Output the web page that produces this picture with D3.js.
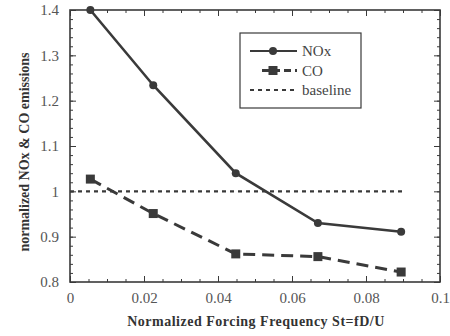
<!DOCTYPE html>
<html>
<head>
<meta charset="utf-8">
<script src="https://cdn.jsdelivr.net/npm/d3@7"></script>
<style>
  body { margin: 0; background: #fff; }
</style>
</head>
<body>
<div id="chart"></div>
<script>
// values
let freq = [0.0055, 0.0225, 0.0448, 0.067, 0.0895],
    nox = [1.4, 1.234, 1.04, 0.93, 0.911],
    co = [1.027, 0.951, 0.862, 0.856, 0.822],
    baseFreq = [0, 0.09],
    baseVal = [1, 1],
    xTicks = [0, 0.02, 0.04, 0.06, 0.08, 0.1],
    yTicks = [0.8, 0.9, 1, 1.1, 1.2, 1.3, 1.4];

let W = 450, H = 336,
    margin = { top: 10, right: 10, bottom: 54, left: 70 },
    width = W - margin.left - margin.right,
    height = H - margin.top - margin.bottom,
    ink = "#3a3a3a",
    serif = "Liberation Serif";

let svg = d3.select("#chart").append("svg").attr("width", W).attr("height", H),
    g = svg.append("g").attr("transform", `translate(${margin.left},${margin.top})`);

let x = d3.scaleLinear().domain([0, 0.1]).range([0, width]),
    y = d3.scaleLinear().domain([0.8, 1.4]).range([height, 0]);

// minor ticks, all four sides, pointing inward
let xMinor = d3.range(0, 0.1001, 0.005),
    yMinor = d3.range(0.8, 1.4001, 0.02);

function tickSet(axis, scale, vals, size, transform) {
    g.append("g")
        .attr("transform", transform || null)
        .call(axis(scale).tickValues(vals).tickSize(size).tickFormat(""))
        .call(s => s.select(".domain").remove())
        .selectAll("line").attr("stroke", ink).attr("stroke-width", 1);
}
tickSet(d3.axisTop, x, xMinor, 3, `translate(0,${height})`);
tickSet(d3.axisTop, x, xTicks, 6, `translate(0,${height})`);
tickSet(d3.axisBottom, x, xMinor, 3);
tickSet(d3.axisBottom, x, xTicks, 6);
tickSet(d3.axisRight, y, yMinor, 3);
tickSet(d3.axisRight, y, yTicks, 6);
tickSet(d3.axisLeft, y, yMinor, 3, `translate(${width},0)`);
tickSet(d3.axisLeft, y, yTicks, 6, `translate(${width},0)`);

// frame
g.append("rect")
    .attr("width", width).attr("height", height)
    .attr("fill", "none").attr("stroke", ink).attr("stroke-width", 1.6);

// tick labels
g.append("g")
    .attr("transform", `translate(0,${height})`)
    .call(d3.axisBottom(x).tickValues(xTicks).tickSize(0).tickPadding(10).tickFormat(d3.format("")))
    .call(s => s.select(".domain").remove())
    .call(s => s.attr("font-family", serif).attr("font-size", 15))
    .selectAll("text").attr("fill", "#555");

g.append("g")
    .call(d3.axisLeft(y).tickValues(yTicks).tickSize(0).tickPadding(11).tickFormat(d3.format("")))
    .call(s => s.select(".domain").remove())
    .call(s => s.attr("font-family", serif).attr("font-size", 15))
    .selectAll("text").attr("fill", "#555");

// axis titles
svg.append("text")
    .attr("x", 256)
    .attr("y", 326)
    .attr("text-anchor", "middle")
    .attr("font-family", serif)
    .attr("font-size", 14).attr("font-weight", "bold").attr("fill", "#333")
    .attr("letter-spacing", 0.5)
    .text("Normalized Forcing Frequency St=fD/U");

svg.append("text")
    .attr("transform", `translate(29,152) rotate(-90)`)
    .attr("text-anchor", "middle")
    .attr("font-family", serif)
    .attr("font-size", 14).attr("font-weight", "bold").attr("fill", "#333")
    .text("normalized NOx & CO emissions");

let line = d3.line().x(d => x(d[0])).y(d => y(d[1]));

// baseline
g.append("path")
    .datum(d3.zip(baseFreq, baseVal))
    .attr("d", line)
    .attr("fill", "none").attr("stroke", ink).attr("stroke-width", 2.2)
    .attr("stroke-dasharray", "4,4");

// CO
let coData = d3.zip(freq, co);
g.append("path")
    .datum(coData)
    .attr("d", line)
    .attr("fill", "none").attr("stroke", ink).attr("stroke-width", 3)
    .attr("stroke-dasharray", "12,7");
g.selectAll(".co-pt").data(coData).join("rect")
    .attr("class", "co-pt")
    .attr("x", d => x(d[0]) - 4.5).attr("y", d => y(d[1]) - 4.5)
    .attr("width", 9).attr("height", 9)
    .attr("fill", ink);

// NOx
let noxData = d3.zip(freq, nox);
g.append("path")
    .datum(noxData)
    .attr("d", line)
    .attr("fill", "none").attr("stroke", ink).attr("stroke-width", 2.6);
g.selectAll(".nox-pt").data(noxData).join("circle")
    .attr("class", "nox-pt")
    .attr("cx", d => x(d[0])).attr("cy", d => y(d[1]))
    .attr("r", 4)
    .attr("fill", ink);

// legend
let leg = svg.append("g").attr("transform", "translate(240,33)");
leg.append("rect")
    .attr("width", 121).attr("height", 75)
    .attr("fill", "#fff").attr("stroke", ink).attr("stroke-width", 1.2);

let legendItems = [
    { label: "NOx", dash: null, width: 2.2, marker: "circle", x0: 10 },
    { label: "CO", dash: "7,4", width: 3, marker: "square", x0: 22 },
    { label: "baseline", dash: "4,4", width: 2.2, marker: null, x0: 10 }
];
legendItems.forEach((d, i) => {
    let row = leg.append("g").attr("transform", `translate(0,${18 + i * 19.5})`);
    row.append("line")
        .attr("x1", d.x0).attr("x2", 57)
        .attr("stroke", ink).attr("stroke-width", d.width)
        .attr("stroke-dasharray", d.dash);
    if (d.marker === "circle") row.append("circle").attr("cx", 33).attr("r", 4).attr("fill", ink);
    if (d.marker === "square") row.append("rect").attr("x", 28.5).attr("y", -4.5).attr("width", 9).attr("height", 9).attr("fill", ink);
    row.append("text")
        .attr("x", 62).attr("dy", "0.35em")
        .attr("font-family", serif)
        .attr("font-size", 15).attr("fill", "#444")
        .text(d.label);
});
</script>
</body>
</html>
